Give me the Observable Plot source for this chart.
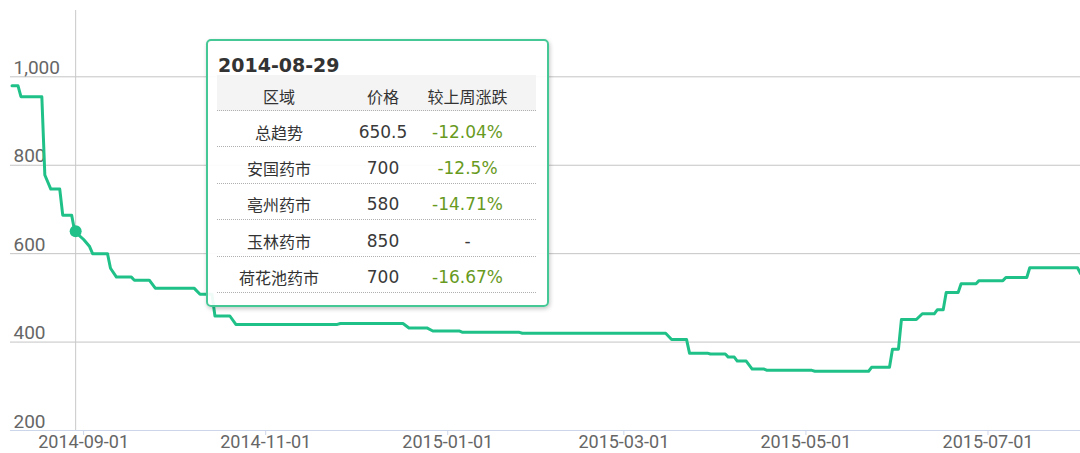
<!DOCTYPE html>
<html>
<head>
<meta charset="utf-8">
<script src="https://cdn.jsdelivr.net/npm/d3@7"></script>
<script src="https://cdn.jsdelivr.net/npm/@observablehq/plot@0.6"></script>
<style>
  html, body { margin: 0; padding: 0; background: #fff; }
  #wrap { position: relative; width: 1080px; height: 453px; overflow: hidden; }
  #tip {
    position: absolute; left: 206px; top: 39px; width: 343px; height: 268px;
    box-sizing: border-box; border: 2px solid #45c796; border-radius: 5px;
    background: rgba(255,255,255,0.93); box-shadow: 1px 2px 4px rgba(0,0,0,0.22);
  }
  #tip .title {
    position: absolute; left: 10px; top: 15px; line-height: 19px;
    font-family: "DejaVu Sans", sans-serif; font-weight: bold; font-size: 19px; color: #333;
  }
  #tip .tbl { position: absolute; left: 9px; top: 34px; width: 319px; }
  #tip .row {
    display: flex; height: 36.4px; box-sizing: border-box; padding-top: 6px;
    align-items: center; border-bottom: 1px dotted #b0b0b0;
  }
  #tip .row.head { background: #f4f4f4; height: 36px; }
  #tip .c { text-align: center; }
  #tip .c1 { width: 124px; }
  #tip .c2 { width: 84px; }
  #tip .c3 { width: 85px; padding-right: 26px; }
  #tip .zh { font-family: "Noto Sans CJK SC", sans-serif; font-size: 16px; color: #333; }
  #tip .num { font-family: "DejaVu Sans", sans-serif; font-size: 17px; color: #3a3a3a; }
  #tip .chg { font-family: "DejaVu Sans", sans-serif; font-size: 17px; color: #689a1e; }
</style>
</head>
<body>
<div id="wrap">
  <div id="chart"></div>
  <div id="tip"></div>
</div>
<script>
// ---- data ----
const dates = [
  "2014-08-08","2014-08-10","2014-08-11","2014-08-18","2014-08-19","2014-08-21",
  "2014-08-24","2014-08-25","2014-08-28","2014-08-29","2014-09-01","2014-09-03",
  "2014-09-04","2014-09-09","2014-09-10","2014-09-12","2014-09-17","2014-09-18",
  "2014-09-23","2014-09-25","2014-10-08","2014-10-10","2014-10-14","2014-10-15",
  "2014-10-20","2014-10-22","2014-11-25","2014-11-26","2014-12-17","2014-12-19",
  "2014-12-25","2014-12-27","2015-01-05","2015-01-06","2015-01-25","2015-01-26",
  "2015-03-15","2015-03-17","2015-03-22","2015-03-23","2015-03-29","2015-03-30",
  "2015-04-04","2015-04-05","2015-04-07","2015-04-08","2015-04-11","2015-04-13",
  "2015-04-17","2015-04-18","2015-05-03","2015-05-04","2015-05-22","2015-05-23",
  "2015-05-29","2015-05-30","2015-06-01","2015-06-02","2015-06-07","2015-06-09",
  "2015-06-13","2015-06-14","2015-06-16","2015-06-17","2015-06-21","2015-06-22",
  "2015-06-27","2015-06-28","2015-07-06","2015-07-07","2015-07-14","2015-07-15",
  "2015-07-31","2015-08-01"
];
const prices = [
  980, 980, 955, 955, 778, 746,
  746, 687, 687, 650.5, 632, 616,
  600, 600, 567, 547, 547, 540,
  540, 522, 522, 508, 508, 459,
  459, 440, 440, 442, 442, 432,
  432, 425, 425, 422, 422, 420,
  420, 406, 406, 375, 375, 373,
  373, 366, 366, 357, 357, 339,
  339, 336, 336, 334, 334, 343,
  343, 384, 384, 451, 451, 464,
  464, 473, 473, 512, 512, 532,
  532, 539, 539, 546, 546, 568,
  568, 555
];
const xTicks = ["2014-09-01","2014-11-01","2015-01-01","2015-03-01","2015-05-01","2015-07-01"];
const yTicks = [200, 400, 600, 800, 1000];
const gridValues = [400, 600, 800, 1000];
const xDomain = ["2014-08-07T12:00Z", "2015-08-01T00:00Z"];
const yDomain = [200, 1150];

// tooltip content
const tipDate = "2014-08-29";
const tipPrice = 650.5;
const tipHeader = ["区域", "价格", "较上周涨跌"];
const regions = ["总趋势", "安国药市", "亳州药市", "玉林药市", "荷花池药市"];
const regionPrices = ["650.5", "700", "580", "850", "700"];
const regionChanges = ["-12.04%", "-12.5%", "-14.71%", "-", "-16.67%"];

// ---- chart ----
const green = "#20c189";
const utc = s => new Date(s.length === 10 ? s + "T00:00Z" : s);
const series = dates.map((d, i) => ({date: utc(d), price: prices[i]}));
const tipPoint = [{date: utc(tipDate), price: tipPrice}];

const chart = Plot.plot({
  width: 1080, height: 453,
  marginLeft: 10, marginRight: 0, marginTop: 10, marginBottom: 23,
  style: {fontFamily: "Roboto, sans-serif", fontSize: "19px", color: "#666", background: "transparent", overflow: "visible"},
  x: {type: "utc", domain: xDomain.map(utc)},
  y: {domain: yDomain},
  marks: [
    Plot.ruleY(gridValues, {stroke: "#c4c4c4", strokeWidth: 1}),
    Plot.ruleY([yDomain[0]], {stroke: "#ccd6eb", strokeWidth: 1}),
    Plot.axisX({
      ticks: xTicks.map(utc), tickFormat: d3.utcFormat("%Y-%m-%d"),
      tickSize: 5, tickPadding: 0, stroke: "#ccd6eb", fill: "#666", label: null,
      fontSize: 18
    }),
    Plot.axisY({
      ticks: yTicks, tickFormat: d3.format(","), tickSize: 0, tickPadding: 0,
      textAnchor: "start", dx: 3, lineAnchor: "bottom", dy: -3, fill: "#666", label: null
    }),
    Plot.ruleX(tipPoint, {x: "date", stroke: "#c8c8c8", strokeWidth: 1, dx: 1}),
    Plot.line(series, {x: "date", y: "price", stroke: green, strokeWidth: 3, strokeLinejoin: "round"}),
    Plot.dot(tipPoint, {x: "date", y: "price", r: 6, fill: green, stroke: "none", dx: 1})
  ]
});
document.getElementById("chart").appendChild(chart);

// ---- tooltip ----
const tip = document.getElementById("tip");
let html = `<div class="title">${tipDate}</div><div class="tbl">`;
html += `<div class="row head"><div class="c c1 zh">${tipHeader[0]}</div><div class="c c2 zh">${tipHeader[1]}</div><div class="c c3 zh">${tipHeader[2]}</div></div>`;
regions.forEach((r, i) => {
  const ch = regionChanges[i];
  html += `<div class="row"><div class="c c1 zh">${r}</div><div class="c c2 num">${regionPrices[i]}</div><div class="c c3 ${ch === "-" ? "num" : "chg"}">${ch}</div></div>`;
});
html += `</div>`;
tip.innerHTML = html;
</script>
</body>
</html>
